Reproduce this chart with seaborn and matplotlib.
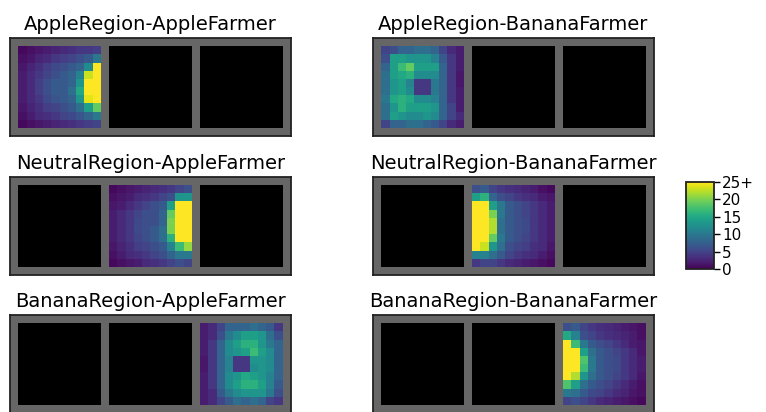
import numpy as np
import matplotlib
matplotlib.use("Agg")
import matplotlib.pyplot as plt
from matplotlib.colors import ListedColormap
import seaborn as sns

# region/farmer combinations, one panel each
titles = ["AppleRegion-AppleFarmer", "AppleRegion-BananaFarmer",
          "NeutralRegion-AppleFarmer", "NeutralRegion-BananaFarmer",
          "BananaRegion-AppleFarmer", "BananaRegion-BananaFarmer"]
# which of the three slots holds the visit map (apple, neutral, banana region)
slots = [0, 0, 1, 1, 2, 2]

cbar_ticks = [0, 5, 10, 15, 20, 25]
cbar_labels = ["0", "5", "10", "15", "20", "25+"]

# visit counts (10x10 each, capped at 25)
apple_apple = [
    [0.5, 1, 1.5, 2, 2.5, 3, 3.5, 4, 4, 4.5],
    [1, 1.5, 2.5, 3, 4, 4.5, 5, 6, 7, 10],
    [1.5, 2.5, 3.5, 4.5, 5.5, 6, 7, 8, 12, 25],
    [2, 3, 4, 5, 6, 7, 8, 11, 23, 25],
    [2, 3, 4.5, 6, 7, 7, 8, 13, 26, 26],
    [2, 3, 4.5, 6, 7, 7, 9, 15, 27, 27],
    [2, 3, 4, 5.5, 6.5, 7, 8, 13, 24, 25],
    [1.5, 2.5, 3.5, 4.5, 5, 6, 7, 9, 14, 19],
    [1, 2, 3, 3.5, 4, 5, 5.5, 6.5, 8, 10],
    [0.5, 1, 1.5, 2, 2.5, 3, 3.5, 4, 4.5, 5],
]
apple_banana = [
    [5, 6, 8, 8, 9, 9, 8, 5, 3, 2],
    [6, 14, 14, 13, 13, 13, 11, 7, 4, 2],
    [8, 14, 17, 19, 14, 14, 14, 8, 4, 2],
    [9, 14, 15, 16, 12, 12, 12, 8, 4, 1.5],
    [9, 13, 14, 11, 4, 4, 10, 8, 4, 1.5],
    [9, 13, 14, 12, 4, 4, 10, 8, 4, 2],
    [10, 15, 16, 15, 12, 12, 11, 8, 4, 2],
    [9, 13, 16, 14, 14, 14, 13, 8, 5, 2],
    [9, 14, 13, 12, 12, 13, 12, 8, 5, 3],
    [5, 8, 8, 9, 9, 8, 7, 5, 3, 2],
]
neutral_apple = [
    [0.5, 1, 1.5, 2, 2.5, 3, 3.5, 4, 5, 6],
    [1, 1.5, 2, 3, 3.5, 4, 5, 6, 13, 13],
    [1.5, 2, 3, 4, 5, 6, 7, 14, 25, 25],
    [2, 3, 4, 5, 6, 6, 8, 19, 25, 25],
    [2, 3, 4, 5.5, 6, 6, 8, 20, 25, 25],
    [2, 3, 4, 5.5, 6, 7, 9, 20, 25, 25],
    [2, 3, 4, 5, 6, 7, 9, 16, 25, 25],
    [1.5, 2.5, 3.5, 4.5, 5, 6, 7, 11, 17, 21],
    [1, 2, 3, 3.5, 4, 5, 6, 8, 10, 10],
    [0.5, 1, 1.5, 2, 3, 3.5, 4, 5, 6, 5],
]
neutral_banana = [
    [6, 7, 5, 4, 3.5, 3, 2.5, 2, 1, 0.5],
    [14, 16, 8, 6, 5, 4, 3.5, 3, 2, 1.5],
    [25, 25, 14, 10, 7, 6, 5, 4, 3, 2],
    [25, 25, 20, 10, 7, 6, 5, 4, 3, 2],
    [25, 25, 22, 9, 7, 6, 5.5, 4, 3, 2],
    [25, 25, 22, 9, 7, 6, 5.5, 4, 3, 2],
    [25, 25, 19, 10, 7, 6, 5, 4, 3, 2],
    [25, 23, 13, 9, 6, 5, 4.5, 3.5, 3, 1.5],
    [11, 11, 9, 7, 5, 4, 3.5, 3, 2, 1],
    [4, 5, 5, 4, 3, 2.5, 2, 1.5, 1, 0.5],
]
banana_apple = [
    [2, 3, 5, 8, 8, 8, 9, 8, 7, 4],
    [2, 3, 6, 10, 12, 14, 14, 13, 9, 6],
    [2, 4, 8, 12, 14, 16, 16, 13, 10, 8],
    [2, 4, 8, 12, 13, 14, 17, 14, 12, 8],
    [1.5, 4, 8, 11, 4, 4, 13, 13, 12, 8],
    [1.5, 4, 8, 11, 4, 4, 12, 13, 12, 8],
    [2, 4, 8, 12, 13, 15, 14, 13, 11, 8],
    [2, 4, 8, 12, 14, 16, 16, 14, 11, 7],
    [2, 3, 7, 10, 12, 13, 13, 13, 10, 6],
    [2, 3, 5, 7, 9, 8, 9, 8, 5, 4],
]
banana_banana = [
    [6, 7, 5, 4, 3.5, 3, 2.5, 2, 1.5, 1],
    [15, 11, 6, 5, 4, 3.5, 3, 2.5, 2, 1],
    [25, 17, 10, 7, 6, 5, 4, 3, 2, 1.5],
    [25, 25, 14, 9, 7, 6, 5, 4, 3, 1.5],
    [25, 25, 18, 10, 7, 6, 5.5, 4, 3, 2],
    [25, 25, 17, 10, 7, 6, 5.5, 4, 3, 2],
    [25, 22, 13, 9, 7, 6, 5, 4, 3, 1.5],
    [18, 14, 9, 7, 6, 5, 4, 3, 2, 1],
    [10, 9, 7, 5.5, 5, 4, 3, 2.5, 1.5, 1],
    [5, 6, 5, 4, 3, 2.5, 2, 1.5, 1, 0.5],
]
visits = [apple_apple, apple_banana, neutral_apple,
          neutral_banana, banana_apple, banana_banana]

N = 10  # grid size of one region


def build_strip(grid, slot):
    # 3 regions side by side with a one-cell gray border/gap
    heat = np.full((N + 2, 3 * N + 4), np.nan)
    empty = np.full((N + 2, 3 * N + 4), np.nan)
    for s in range(3):
        c0 = 1 + s * (N + 1)
        if s == slot:
            heat[1:N + 1, c0:c0 + N] = np.minimum(np.array(grid), 25)
        else:
            empty[1:N + 1, c0:c0 + N] = 0
    return heat, empty


fig = plt.figure(figsize=(7.66, 4.12), dpi=100)

lefts = [10 / 766, 373 / 766]
bottoms = [(412 - 136) / 412, (412 - 275) / 412, (412 - 413) / 412]
w = 281 / 766
h = 98 / 412

cax = fig.add_axes([686 / 766, (412 - 269) / 412, 28 / 766, 87 / 412])
cb = None

for i, title in enumerate(titles):
    ax = fig.add_axes([lefts[i % 2], bottoms[i // 2], w, h])
    ax.set_facecolor("#666666")
    heat, empty = build_strip(visits[i], slots[i])
    sns.heatmap(empty, ax=ax, cmap=ListedColormap(["black"]), cbar=False,
                xticklabels=False, yticklabels=False)
    sns.heatmap(heat, ax=ax, cmap="viridis", vmin=0, vmax=25,
                cbar=(i == 0), cbar_ax=cax if i == 0 else None,
                xticklabels=False, yticklabels=False)
    if i == 0:
        cb = ax.collections[-1].colorbar
    for sp in ax.spines.values():
        sp.set_visible(True)
        sp.set_color("#222222")
        sp.set_linewidth(1.3)
    ax.set_title(title, fontsize=14)

cb.set_ticks(cbar_ticks)
cb.set_ticklabels(cbar_labels)
cb.outline.set_linewidth(1.3)
cb.outline.set_edgecolor("#222222")
cax.tick_params(labelsize=11, length=4, width=1, pad=2)

plt.savefig("out.png", dpi=100)
